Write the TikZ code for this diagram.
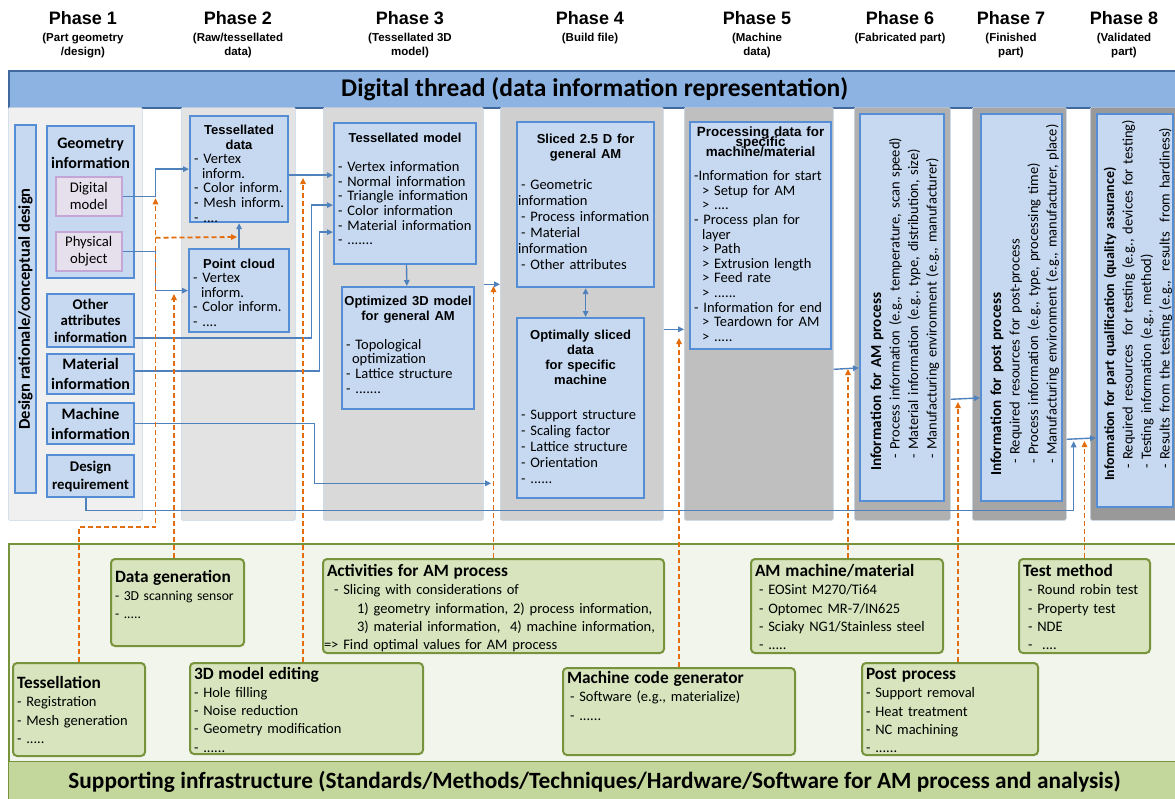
\documentclass[tikz,border=0pt]{standalone}
\usepackage{fontspec}
\setmainfont{Carlito}
\newfontfamily\arialfont{Liberation Sans}
\usepackage{tikz}
\usetikzlibrary{arrows.meta}
\definecolor{BarBlue}{HTML}{8DB3E2}
\definecolor{BarEdge}{HTML}{41699E}
\definecolor{BoxFill}{HTML}{C6D9F1}
\definecolor{BoxEdge}{HTML}{558ED5}
\definecolor{LinkBlue}{HTML}{4F81BD}
\definecolor{PinkFill}{HTML}{E6E0EC}
\definecolor{PinkEdge}{HTML}{C3A6D6}
\definecolor{FlowOrange}{HTML}{E46C0A}
\definecolor{GreenFill}{HTML}{D7E4BD}
\definecolor{GreenEdge}{HTML}{77933C}
\definecolor{BandFill}{HTML}{F2F5EC}
\definecolor{InfraGreen}{HTML}{C3D69B}
\definecolor{ColEdge}{HTML}{C5D6EA}

\newcommand\hd[1]{{\centering\arialfont\bfseries\fontsize{13}{15}\selectfont #1\par}}
\newcommand\gt[1]{{\bfseries\fontsize{17.3}{18}\selectfont #1\par}}

\tikzset{
  phtitle/.style={font=\arialfont\bfseries\fontsize{18}{20}\selectfont, inner sep=0pt},
  phsub/.style={font=\arialfont\bfseries\fontsize{11.5}{14}\selectfont, align=center, inner sep=0pt, anchor=north},
  colbox/.style={draw=ColEdge, fill=#1, line width=0.6pt, rounded corners=1.5pt, anchor=north west, inner sep=0pt, minimum height=413pt},
  bluebox/.style={draw=BoxEdge, fill=BoxFill, line width=2.2pt},
  sidebox/.style={bluebox, anchor=north west, minimum width=87pt, align=center, inner sep=1pt},
  pinkbox/.style={draw=PinkEdge, fill=PinkFill, line width=1.5pt, anchor=north west, minimum width=66pt, minimum height=39pt, align=center, inner sep=1pt, font=\fontsize{14.7}{17}\selectfont},
  greenbox/.style={draw=GreenEdge, fill=GreenFill, line width=2pt, rounded corners=4pt, font=\fontsize{14.5}{18.3}\selectfont},
  topbox/.code n args={3}{%
    \pgfmathsetlengthmacro\boxtw{#1-8pt}%
    \pgfmathsetlengthmacro\boxtd{#2-6pt-#3}%
    \tikzset{anchor=north west, inner xsep=4pt, inner ysep=3pt, align=left,
      minimum width=#1, text width=\boxtw, text height=#3, text depth=\boxtd}},
  link/.style={draw=LinkBlue, line width=1.4pt, ->},
  flow/.style={draw=FlowOrange, line width=1.8pt, dash pattern=on 5pt off 3pt, ->},
}

\begin{document}
\begin{tikzpicture}[x=1pt,y=-1pt,>={Triangle[length=6pt,width=5.5pt]}]
\useasboundingbox (0,0) rectangle (1175,798);
\fill[white] (0,0) rectangle (1175,798);

% phase headings
\node[phtitle] (h1) at (83,18) {Phase 1};
\node[phsub] (s1) at (83,33) {(Part geometry\\/design)};
\node[phtitle] (h2) at (238,18) {Phase 2};
\node[phsub] (s2) at (238,33) {(Raw/tessellated\\data)};
\node[phtitle] (h3) at (410,18) {Phase 3};
\node[phsub] (s3) at (410,33) {(Tessellated 3D\\model)};
\node[phtitle] (h4) at (590,18) {Phase 4};
\node[phsub] (s4) at (590,33) {(Build file)};
\node[phtitle] (h5) at (757,18) {Phase 5};
\node[phsub] (s5) at (757,33) {(Machine\\data)};
\node[phtitle] (h6) at (900,18) {Phase 6};
\node[phsub] (s6) at (900,33) {(Fabricated part)};
\node[phtitle] (h7) at (1011,18) {Phase 7};
\node[phsub] (s7) at (1011,33) {(Finished\\part)};
\node[phtitle] (h8) at (1124,18) {Phase 8};
\node[phsub] (s8) at (1124,33) {(Validated\\part)};

% digital thread
\node[draw=BarEdge, fill=BarBlue, line width=1.5pt, anchor=north west, minimum width=1172pt, minimum height=37pt, inner sep=0pt,
  font=\bfseries\fontsize{25.5}{28}\selectfont] (dt) at (8,70) {Digital thread (data information representation)};

\node[colbox=black!6, minimum width=134pt] (c1) at (8,107) {};
\node[colbox=black!11, minimum width=114pt] (c2) at (181,107) {};
\node[colbox=black!15, minimum width=160pt] (c3) at (323,107) {};
\node[colbox=black!19, minimum width=163pt] (c4) at (500,107) {};
\node[colbox=black!25, minimum width=149pt] (c5) at (684,107) {};
\node[colbox=black!31, minimum width=96pt] (c6) at (854,107) {};
\node[colbox=black!35, minimum width=94pt] (c7) at (972,107) {};
\node[colbox=black!40, minimum width=95pt] (c8) at (1090,107) {};

% phase 1
\node[bluebox, rotate=90, minimum width=368pt, minimum height=21pt, inner sep=0pt,
  font=\bfseries\fontsize{16.5}{18}\selectfont] (dr) at (25.5,309) {Design rationale/conceptual design};
\node[bluebox, topbox={87pt}{152pt}{19pt}, align=center, font=\bfseries\fontsize{16}{20}\selectfont] (geo) at (46,125) {Geometry\\information};
\node[pinkbox] (dig) at (55,176) {Digital\\model};
\node[pinkbox] (phy) at (55,231) {Physical\\object};
\node[sidebox, minimum height=53pt, font=\bfseries\fontsize{14.8}{16.5}\selectfont] (oth) at (46,293) {Other\\attributes\\information};
\node[sidebox, minimum height=40pt, font=\bfseries\fontsize{16}{20}\selectfont] (mat) at (46,353) {Material\\information};
\node[sidebox, minimum height=41pt, font=\bfseries\fontsize{16}{20}\selectfont] (mach) at (46,402) {Machine\\information};
\node[sidebox, minimum height=42pt, font=\bfseries\fontsize{14.8}{18}\selectfont] (dreq) at (46,454) {Design\\requirement};

% phase 2 and 3
\node[bluebox, topbox={98pt}{106pt}{15pt}, font=\fontsize{14.5}{14.6}\selectfont] (tdat) at (189,115)
  {\hd{Tessellated\\data}- Vertex\\\hspace*{8pt}inform.\\- Color inform.\\- Mesh inform.\\- ....};
\node[bluebox, topbox={100pt}{83pt}{16pt}, font=\fontsize{14.5}{14.6}\selectfont] (pcl) at (188,248)
  {\hd{Point cloud}- Vertex\\\hspace*{8pt}inform.\\- Color inform.\\- ....};
\node[bluebox, topbox={142pt}{141pt}{16pt}, font=\fontsize{14.5}{14.6}\selectfont] (tmod) at (333,122)
  {\hd{Tessellated model}\vspace{15pt}- Vertex information\\- Normal information\\- Triangle information\\- Color information\\- Material information\\- .......};
\node[bluebox, topbox={132pt}{122pt}{15pt}, font=\fontsize{14.5}{14.6}\selectfont] (opt) at (341,286)
  {\hd{\makebox[\linewidth]{Optimized 3D model}\\for general AM}\vspace{14.5pt}- Topological\\\hspace*{6pt}optimization\\- Lattice structure\\- .......};

% phase 4 and 5
\node[bluebox, topbox={137pt}{165pt}{18pt}, font=\fontsize{14.5}{16}\selectfont] (sl) at (516,121)
  {\hd{Sliced 2.5 D for\\general AM}\vspace{15pt}- Geometric\\\hspace*{-3pt}information\\- Process information\\- Material\\\hspace*{-3pt}information\\- Other attributes};
\node[bluebox, topbox={127pt}{180pt}{18pt}, font=\fontsize{14.5}{16}\selectfont] (osl) at (516,317)
  {\hd{Optimally sliced\\data\\for specific\\machine}\vspace{19pt}- Support structure\\- Scaling factor\\- Lattice structure\\- Orientation\\- ......};
\node[bluebox, topbox={141pt}{227pt}{11pt}, font=\fontsize{14.5}{14.6}\selectfont] (proc) at (689,121)
  {{\centering\lineskiplimit=-20pt\arialfont\bfseries\fontsize{13.4}{10}\selectfont Processing data for\\specific\\machine/material\par}\vspace{10pt}%
  -Information for start\\\hspace*{8pt}> Setup for AM\\\hspace*{8pt}> ....\\- Process plan for\\\hspace*{8pt}layer\\\hspace*{8pt}> Path\\\hspace*{8pt}> Extrusion length\\\hspace*{8pt}> Feed rate\\\hspace*{8pt}> ......\\- Information for end\\\hspace*{8pt}> Teardown for AM\\\hspace*{8pt}> .....};

% phase 6 to 8
\node[bluebox, topbox={387pt}{84pt}{18pt}, rotate=90, font=\fontsize{14.5}{18.5}\selectfont] (b6) at (859,502)
  {\hspace*{26pt}{\bfseries\fontsize{15.2}{18}\selectfont Information for AM process}\\
   \hspace*{38pt}- Process information (e.g., temperature, scan speed)\\
   \hspace*{38pt}- Material information (e.g., type, distribution, size)\\
   \hspace*{38pt}- Manufacturing environment (e.g., manufacturer)};
\node[bluebox, topbox={387pt}{81pt}{17pt}, rotate=90, font=\fontsize{14.5}{18.5}\selectfont] (b7) at (980,502)
  {\hspace*{21pt}{\bfseries\fontsize{15.2}{18}\selectfont Information for post process}\\
   \hspace*{33pt}- Required resources for post-process\\
   \hspace*{33pt}- Process information (e.g., type, processing time)\\
   \hspace*{33pt}- Manufacturing environment (e.g., manufacturer, place)};
\node[bluebox, topbox={393pt}{76pt}{14pt}, rotate=90, font=\fontsize{14.5}{18.5}\selectfont] (b8) at (1096,508)
  {\hspace*{22pt}{\bfseries\fontsize{14}{18}\selectfont Information for part qualification (quality assurance)}\\
   \hspace*{34pt}- Required resources\ \ for testing (e.g., devices for testing)\\
   \hspace*{34pt}- Testing information (e.g., method)\\
   \hspace*{34pt}- Results from the testing (e.g.,\ \ results\ \ from hardiness)};

% supporting infrastructure
\node[draw=GreenEdge, fill=BandFill, line width=1.5pt, anchor=north west, minimum width=1172pt, minimum height=218pt, inner sep=0pt] (band) at (8,543) {};
\node[draw=GreenEdge, fill=InfraGreen, line width=1pt, anchor=north west, minimum width=1172pt, minimum height=40pt, inner sep=0pt,
  font=\bfseries\fontsize{23.3}{26}\selectfont] (infra) at (8,761) {Supporting infrastructure (Standards/Methods/Techniques/Hardware/Software for AM process and analysis)};

\node[greenbox, topbox={133pt}{87pt}{20pt}, font=\fontsize{13.7}{18.3}\selectfont] (dgen) at (110,558) {\gt{Data generation}- 3D scanning sensor\\- .....};
\node[greenbox, topbox={132pt}{93pt}{22.5pt}] (tsl) at (12,662) {\gt{Tessellation}- Registration\\- Mesh generation\\- .....};
\node[greenbox, topbox={233pt}{91pt}{13pt}] (edit) at (189,662) {\gt{3D model editing}- Hole filling\\- Noise reduction\\- Geometry modification\\- ......};
\node[greenbox, topbox={341pt}{94pt}{14.5pt}] (act) at (322,558)
  {\gt{Activities for AM process}\hspace*{7pt}- Slicing with considerations of\\
   \hspace*{30pt}1) geometry information, 2) process information,\\
   \hspace*{30pt}3) material information,\ \ 4) machine information,\\
   \hspace*{-3pt}=> Find optimal values for AM process};
\node[greenbox, topbox={192pt}{94pt}{14.5pt}] (amm) at (750,558)
  {\gt{AM machine/material}\hspace*{4pt}- EOSint M270/Ti64\\\hspace*{4pt}- Optomec MR-7/IN625\\\hspace*{4pt}- Sciaky NG1/Stainless steel\\\hspace*{4pt}- .....};
\node[greenbox, topbox={232pt}{87pt}{12.5pt}] (mcg) at (562,667) {\gt{Machine code generator}\hspace*{3pt}- Software (e.g., materialize)\\\hspace*{3pt}- ......};
\node[greenbox, topbox={176pt}{92pt}{13.5pt}] (post) at (861,662) {\gt{Post process}- Support removal\\- Heat treatment\\- NC machining\\- ......};
\node[greenbox, topbox={131pt}{94pt}{14.5pt}] (test) at (1018,558) {\gt{Test method}\hspace*{5pt}- Round robin test\\\hspace*{5pt}- Property test\\\hspace*{5pt}- NDE\\\hspace*{5pt}-\ \ ....};

% data links
\draw[link] (dig.east) -- ++(33,0) coordinate (j1) |- (tdat.west);
\draw[link] (phy.east) -- ++(33,0) |- (pcl.west);
\draw[link] (pcl) -- (tdat);
\draw[link] ([yshift=-6pt]tdat.east) -- ([yshift=18.5pt]tmod.west);
\draw[link] ([yshift=-17.5pt]oth.east) -- ++(176,0) |- ([yshift=-11.5pt]tmod.west);
\draw[link] ([yshift=3pt]mat.east) -- ++(184,0) |- ([yshift=-38.5pt]tmod.west);
\draw[link] (tmod) -- (opt);
\draw[link] (mach.east) -- ++(179,0) |- ([xshift=-9pt,yshift=-169.5pt]c4.west);
\draw[link] ([yshift=29.5pt]c3.east) -- ([yshift=29.5pt]c4.west);
\draw[link, <->] (sl.south) -- (sl.south |- osl.north);
\draw[link] ([yshift=-15.5pt]c4.east) -- ([yshift=-15.5pt]c5.west);
\draw[link] ([yshift=-55.5pt]c5.east) -- ([yshift=-60.5pt]b6.north);
\draw[link] ([yshift=-85.5pt]c6.east) -- ([yshift=-90.5pt]b7.north);
\draw[link] ([yshift=-125.5pt]c7.east) -- ([yshift=-127.5pt]b8.north);
\draw[link] ([xshift=-4.5pt]dreq.south) -- ++(0,12) -| ([xshift=7pt,yshift=-127.5pt]c7.east);

% supporting activities
\draw[flow] (tsl.north) -- ++(0,-135) -| ([yshift=-2pt]j1);
\draw[flow] ([yshift=-41.5pt]j1) -- ([xshift=-2pt,yshift=11pt]pcl.north);
\draw[flow] ([xshift=-3.5pt]dgen.north) -- ++(0,-264);
\draw[flow] ([xshift=-3.5pt]edit.north) -- ++(0,-484);
\draw[flow] (act.north) -- ++(0,-272);
\draw[flow] (mcg.north) -- ++(0,-329);
\draw[flow] ([xshift=1pt]amm.north) -- ++(0,-189);
\draw[flow] ([xshift=8pt]post.north) -- ++(0,-260);
\draw[flow] (test.north) -- ++(0,-117);
\end{tikzpicture}
\end{document}
